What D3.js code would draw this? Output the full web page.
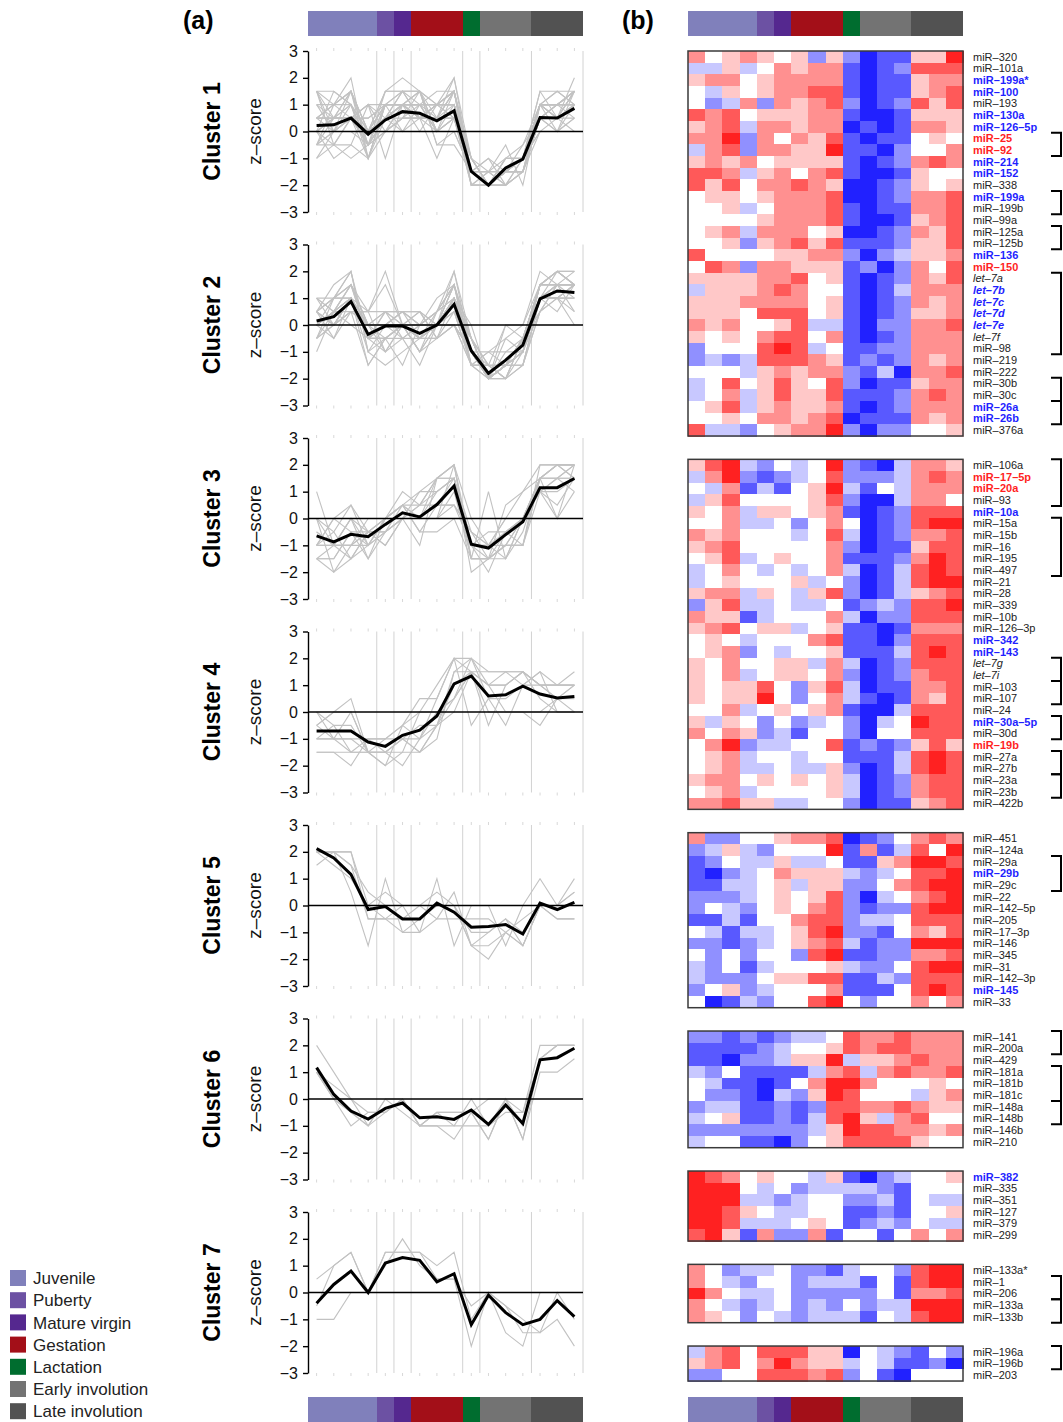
<!doctype html>
<html>
<head>
<meta charset="utf-8"/>
<title>miRNA clusters</title>
<script src="https://d3js.org/d3.v7.min.js"></script>
<style>
body{margin:0;background:#fff;}
text{font-family:"Liberation Sans",Arial,Helvetica,sans-serif;}
</style>
</head>
<body>
<script>
// ---- data ----------------------------------------------------------
var phases = ["Juvenile","Puberty","Mature virgin","Gestation","Lactation","Early involution","Late involution"];
var phaseN = [4,1,1,3,1,3,3];
var phaseCol = ["#8080bb","#6c51a3","#55288f","#a30f18","#006d2f","#737373","#525252"];

// mean profile (black line) per cluster, 16 samples
var means = [
 [0.22,0.25,0.5,-0.1,0.43,0.74,0.68,0.4,0.77,-1.49,-2.0,-1.36,-1.03,0.52,0.5,0.86],
 [0.15,0.31,0.87,-0.35,-0.04,-0.04,-0.31,0,0.77,-0.96,-1.8,-1.31,-0.75,0.97,1.27,1.21],
 [-0.65,-0.87,-0.59,-0.68,-0.22,0.21,0.06,0.52,1.21,-0.96,-1.1,-0.6,-0.12,1.15,1.15,1.49],
 [-0.71,-0.71,-0.71,-1.12,-1.28,-0.87,-0.68,-0.15,1.05,1.34,0.6,0.64,0.96,0.67,0.52,0.58],
 [2.12,1.77,1.16,-0.15,-0.04,-0.5,-0.5,0.09,-0.25,-0.81,-0.78,-0.71,-1.06,0.09,-0.15,0.12],
 [1.17,0.17,-0.45,-0.75,-0.35,-0.15,-0.7,-0.66,-0.76,-0.41,-0.95,-0.22,-0.91,1.46,1.54,1.89],
 [-0.4,0.3,0.8,0.0,1.1,1.3,1.2,0.4,0.7,-1.2,-0.1,-0.75,-1.2,-1.0,-0.3,-0.9]
];

// heatmap rows: one digit per sample, 1 = deep blue ... 5 = white ... 9 = deep red
var names1 = ["miR–320","miR–101a","miR–199a*","miR–100","miR–193","miR–130a","miR–126–5p","miR–25","miR–92","miR–214","miR–152","miR–338","miR–199a","miR–199b","miR–99a","miR–125a","miR–125b","miR–136","miR–150","let–7a","let–7b","let–7c","let–7d","let–7e","let–7f","miR–98","miR–219","miR–222","miR–30b","miR–30c","miR–26a","miR–26b","miR–376a"];
var codes1 = ["7567656363122669","4464576772123888","6775677772122677","5465677882122678","5347376783123868","8785666772112666","6784776771212776","7793757682122565","4783776692213557","6767566662123787","8874675782112655","8685778761123656","5665677781123778","5564577782122778","5555677782112678","5674777561123768","5563678682223668","8555566773134667","5873776662313758","6666778562123768","4666787552124777","6667777562123767","6665888562123667","7675568442133778","6565788572123777","3555898452233777","3434888762323767","5554676773241778","4585686583122677","4574686682223787","5684676672123777","5565776781222767","8443567793133556"];

var names2 = ["miR–106a","miR–17–5p","miR–20a","miR–93","miR–10a","miR–15a","miR–15b","miR–16","miR–195","miR–497","miR–21","miR–28","miR–339","miR–10b","miR–126–3p","miR–342","miR–143","let–7g","let–7i","miR–103","miR–107","miR–24","miR–30a–5p","miR–30d","miR–19b","miR–27a","miR–27b","miR–23a","miR–23b","miR–422b"];
var codes2 = ["6894354593214776","4793234583334787","5472425694254777","4685555683114775","6574665672123888","5574453575123899","7675554584123778","6785555573122688","5684565572223798","4575454574124898","4565556453124899","6774654683124678","3684454452343889","7662455574133888","6785664562212777","5654555782213888","5673545562224898","6575566474123888","6574566573123788","6566853684122778","6566953574212768","5574565672114888","6465353453145988","7576342553155888","5793445582323686","5674554552224898","5674454463124898","6775656564123788","5674555564123788","7786644553122678"];

var names3 = ["miR–451","miR–124a","miR–29a","miR–29b","miR–29c","miR–22","miR–142–5p","miR–205","miR–17–3p","miR–146","miR–345","miR–31","miR–142–3p","miR–145","miR–33"];
var codes3 = ["7335567781235787","3464355592724859","2354464452267998","2134576664345889","2244564663357899","3334565683145789","3543565783233899","2242557883445888","5424456893325768","3323456784233999","5353553892233778","4352455564335899","4333566882243888","3563455572225898","5124355895355757"];

var names4 = ["miR–141","miR–200a","miR–429","miR–181a","miR–181b","miR–181c","miR–148a","miR–148b","miR–146b","miR–210"];
var codes4 = ["3323234458778777","2222345568788777","2213346694667877","4352222478478778","5422125799755565","5332143698555467","3442232388778766","4562232489647855","3333333469887767","4552213568888655"];

var names5 = ["miR–382","miR–335","miR–351","miR–127","miR–379","miR–299"];
var codes5 = ["9875655462134556","9995453444432555","9994434553342544","9986544552232556","9984445652343544","8962733725525757"];

var names6 = ["miR–133a*","miR–1","miR–206","miR–133a","miR–133b"];
var codes6 = ["7534453324553899","7543553444252899","9754453333352778","7543453435344999","7653543444254899"];

var names7 = ["miR–196a","miR–196b","miR–203"];
var codes7 = ["4785888661543253","6785797664542231","3355888783521555"];

var blueNames = ["miR–199a*","miR–100","miR–130a","miR–126–5p","miR–214","miR–152","miR–199a","miR–136","let–7b","let–7c","let–7d","let–7e","miR–26a","miR–26b","miR–10a","miR–342","miR–143","miR–30a–5p","miR–29b","miR–145","miR–382"];
var redNames = ["miR–25","miR–92","miR–150","miR–17–5p","miR–20a","miR–19b"];

var brackets = [["miR–25","miR–92"],["miR–199a","miR–199b"],["miR–125a","miR–125b"],["let–7a","miR–98"],["miR–30b","miR–30c"],["miR–26a","miR–26b"],
 ["miR–106a","miR–93"],["miR–15a","miR–497"],["let–7g","let–7i"],["miR–103","miR–107"],["miR–30a–5p","miR–30d"],["miR–27a","miR–27b"],["miR–23a","miR–23b"],
 ["miR–29a","miR–29c"],["miR–141","miR–200a"],["miR–181a","miR–181c"],["miR–148a","miR–148b"],["miR–1","miR–206"],["miR–133a","miR–133b"],["miR–196a","miR–196b"]];

var yTicks = [-3,-2,-1,0,1,2,3];

// ---- build -----------------------------------------------------------
var blocks = [[names1,codes1],[names2,codes2],[names3,codes3],[names4,codes4],[names5,codes5],[names6,codes6],[names7,codes7]];
function decode(s){ return s.split("").map(function(c){ return (+c - 5) * 0.5; }); }

var svg = d3.select("body").append("svg").attr("width",1063).attr("height",1422);

var samples = d3.range(16);
var phaseStart = [];
var acc = 0;
phaseN.forEach(function(n){ phaseStart.push(acc); acc += n; });

var xa = d3.scaleBand().domain(samples).range([308,583]);
var xb = d3.scaleBand().domain(samples).range([688,963]);
var col = d3.scaleLinear().domain([-2.3,0,2.3]).range(["#0000ff","#ffffff","#ff0000"]).clamp(true);

function phaseBar(x, y){
  svg.append("g").selectAll("rect").data(phases).enter().append("rect")
    .attr("x", function(d,i){ return x(phaseStart[i]); })
    .attr("y", y)
    .attr("width", function(d,i){ return x.bandwidth()*phaseN[i] + 0.4; })
    .attr("height", 25)
    .attr("fill", function(d,i){ return phaseCol[i]; })
    .attr("shape-rendering","crispEdges");
}
phaseBar(xa, 11); phaseBar(xb, 11);
phaseBar(xa, 1397); phaseBar(xb, 1397);

svg.append("text").attr("x",183).attr("y",29).attr("font-size",25).attr("font-weight","bold").text("(a)");
svg.append("text").attr("x",622).attr("y",29).attr("font-size",25).attr("font-weight","bold").text("(b)");

// ---- (a) line panels ------------------------------------------------
var line = d3.line().x(function(d,i){ return xa(i) + xa.bandwidth()/2; });

blocks.forEach(function(b,k){
  var top = 51 + k*193.5;
  var y = d3.scaleLinear().domain([-3,3]).range([top+161, top]);
  line.y(function(d){ return y(d); });
  var g = svg.append("g");

  // phase separators + right border
  var seps = phaseStart.slice(1).map(function(s){ return xa(s); }).concat([583]);
  g.selectAll("line.sep").data(seps).enter().append("line")
    .attr("x1", function(d){ return d; }).attr("x2", function(d){ return d; })
    .attr("y1", y(3)).attr("y2", y(-3))
    .attr("stroke","#d2d2d2").attr("stroke-width",1);
  // faint sample ticks
  g.selectAll("line.tk").data(samples.concat(samples)).enter().append("line")
    .attr("x1", function(d){ return xa(d)+xa.bandwidth()/2; })
    .attr("x2", function(d){ return xa(d)+xa.bandwidth()/2; })
    .attr("y1", function(d,i){ return i<16 ? y(-3) : y(3); })
    .attr("y2", function(d,i){ return i<16 ? y(-3)+3 : y(3)-3; })
    .attr("stroke","#d8d8d8").attr("stroke-width",1);

  // member profiles
  g.selectAll("path.m").data(b[1].map(decode)).enter().append("path")
    .attr("d", line).attr("fill","none")
    .attr("stroke","#c2c2c2").attr("stroke-width",1.1);

  g.append("line").attr("x1",308).attr("x2",583).attr("y1",y(0)).attr("y2",y(0))
    .attr("stroke","#000").attr("stroke-width",1.4);

  g.append("path").datum(means[k]).attr("d", line).attr("fill","none")
    .attr("stroke","#000").attr("stroke-width",3).attr("stroke-linejoin","miter");

  var ax = g.append("g").attr("transform","translate(308,0)")
    .call(d3.axisLeft(y).tickValues(yTicks).tickSize(5).tickSizeOuter(0).tickPadding(5)
      .tickFormat(function(d){ return d < 0 ? "\u2212" + Math.abs(d) : d; }));
  ax.selectAll("path,line").attr("stroke","#000").attr("stroke-width",1.4);
  ax.selectAll("text").attr("font-size",16).attr("fill","#111")
    .attr("font-family","Liberation Sans, Arial, sans-serif");

  var cy = top + 80.5;
  g.append("text").attr("transform","translate(220,"+cy+") rotate(-90)")
    .attr("text-anchor","middle").attr("font-size",23).attr("font-weight","bold")
    .text("Cluster " + (k+1));
  g.append("text").attr("transform","translate(261,"+cy+") rotate(-90)")
    .attr("text-anchor","middle").attr("font-size",19).attr("fill","#111")
    .text("z\u2013score");
});

// ---- (b) heatmap ----------------------------------------------------
var rowH = 11.667;
var yr = d3.scaleLinear().domain([0,114]).range([51, 51 + 114*rowH]);
var rowOf = {};
var start = 0;
blocks.forEach(function(b,k){
  var g = svg.append("g");
  var rows = b[1].map(decode);
  rows.forEach(function(r,ri){
    rowOf[b[0][ri]] = start + ri;
    g.selectAll(null).data(r).enter().append("rect")
      .attr("x", function(d,i){ return xb(i); })
      .attr("y", yr(start+ri))
      .attr("width", xb.bandwidth()+0.5)
      .attr("height", rowH+0.5)
      .attr("fill", function(d){ return col(d); })
      .attr("shape-rendering","crispEdges");
  });
  g.append("rect").attr("x",688).attr("y",yr(start))
    .attr("width",275).attr("height",rows.length*rowH)
    .attr("fill","none").attr("stroke","#3a3a3a").attr("stroke-width",1.5);

  g.selectAll("text").data(b[0]).enter().append("text")
    .attr("x",973)
    .attr("y", function(d,i){ return yr(start+i) + rowH/2; })
    .attr("dy","0.35em")
    .attr("font-size",11)
    .attr("font-weight", function(d){ return (blueNames.indexOf(d)>=0 || redNames.indexOf(d)>=0) ? "bold" : "normal"; })
    .attr("font-style", function(d){ return d.indexOf("let")===0 ? "italic" : "normal"; })
    .attr("fill", function(d){ return blueNames.indexOf(d)>=0 ? "#1f1fff" : (redNames.indexOf(d)>=0 ? "#ff1f1f" : "#222"); })
    .text(function(d){ return d; });

  start += rows.length + 2;
});

svg.append("g").selectAll("path").data(brackets).enter().append("path")
  .attr("d", function(d){
    var y0 = yr(rowOf[d[0]]), y1 = yr(rowOf[d[1]]+1);
    return "M1051," + y0 + "H1061V" + y1 + "H1051";
  })
  .attr("fill","none").attr("stroke","#000").attr("stroke-width",2);

// ---- legend ---------------------------------------------------------
var leg = svg.append("g").selectAll("g").data(phases).enter().append("g")
  .attr("transform", function(d,i){ return "translate(10," + (1278 + i*22.2) + ")"; });
leg.append("rect").attr("x",0).attr("y",-8).attr("width",16).attr("height",16)
  .attr("fill", function(d,i){ return phaseCol[i]; });
leg.append("text").attr("x",23).attr("dy","0.36em").attr("font-size",17).attr("fill","#222")
  .text(function(d){ return d; });
</script>
</body>
</html>
